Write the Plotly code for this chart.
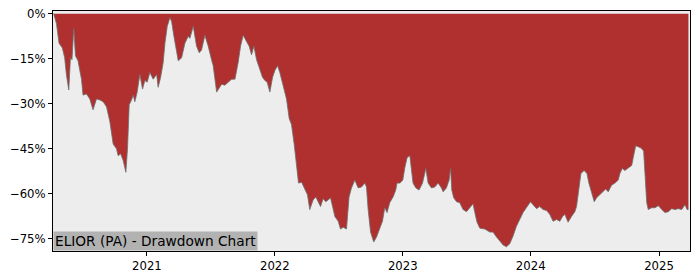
import pandas as pd
import plotly.graph_objects as go

# Decimal-year dates and drawdown values (%)
dec_years = [
    2020.273, 2020.295, 2020.315, 2020.341, 2020.359, 2020.373, 2020.391, 2020.404, 2020.416, 2020.430,
    2020.443, 2020.463, 2020.490, 2020.502, 2020.529, 2020.555, 2020.580, 2020.607, 2020.633, 2020.659,
    2020.685, 2020.711, 2020.737, 2020.763, 2020.776, 2020.795, 2020.815, 2020.836, 2020.849, 2020.862,
    2020.880, 2020.893, 2020.906, 2020.924, 2020.945, 2020.966, 2020.984, 2021.002, 2021.023, 2021.049,
    2021.076, 2021.088, 2021.107, 2021.127, 2021.141, 2021.159, 2021.180, 2021.193, 2021.211, 2021.232,
    2021.245, 2021.271, 2021.297, 2021.323, 2021.336, 2021.362, 2021.375, 2021.388, 2021.409, 2021.427,
    2021.453, 2021.479, 2021.505, 2021.518, 2021.545, 2021.565, 2021.584, 2021.609, 2021.635, 2021.662,
    2021.688, 2021.713, 2021.732, 2021.752, 2021.773, 2021.799, 2021.818, 2021.836, 2021.857, 2021.883,
    2021.904, 2021.922, 2021.940, 2021.961, 2021.982, 2022.000, 2022.021, 2022.039, 2022.065, 2022.091,
    2022.112, 2022.130, 2022.151, 2022.170, 2022.185, 2022.209, 2022.234, 2022.255, 2022.273, 2022.299,
    2022.320, 2022.338, 2022.357, 2022.377, 2022.398, 2022.416, 2022.435, 2022.451, 2022.469, 2022.495,
    2022.513, 2022.534, 2022.560, 2022.580, 2022.599, 2022.625, 2022.651, 2022.677, 2022.703, 2022.716,
    2022.729, 2022.748, 2022.773, 2022.795, 2022.820, 2022.841, 2022.859, 2022.877, 2022.898, 2022.924,
    2022.945, 2022.955, 2022.977, 2023.000, 2023.016, 2023.034, 2023.055, 2023.068, 2023.080, 2023.102,
    2023.127, 2023.154, 2023.180, 2023.198, 2023.224, 2023.250, 2023.276, 2023.302, 2023.315, 2023.341,
    2023.362, 2023.373, 2023.383, 2023.398, 2023.420, 2023.445, 2023.471, 2023.498, 2023.523, 2023.549,
    2023.563, 2023.580, 2023.602, 2023.641, 2023.680, 2023.705, 2023.732, 2023.758, 2023.784, 2023.810,
    2023.836, 2023.862, 2023.888, 2023.914, 2023.940, 2023.966, 2023.998, 2024.018, 2024.045, 2024.070,
    2024.096, 2024.123, 2024.148, 2024.174, 2024.201, 2024.227, 2024.248, 2024.266, 2024.291, 2024.318,
    2024.344, 2024.357, 2024.375, 2024.391, 2024.416, 2024.438, 2024.453, 2024.474, 2024.495, 2024.513,
    2024.539, 2024.565, 2024.584, 2024.604, 2024.630, 2024.656, 2024.682, 2024.695, 2024.713, 2024.734,
    2024.760, 2024.787, 2024.799, 2024.818, 2024.838, 2024.859, 2024.880, 2024.891, 2024.904, 2024.916,
    2024.943, 2024.969, 2024.995, 2025.021, 2025.047, 2025.073, 2025.099, 2025.125, 2025.151, 2025.177,
    2025.203, 2025.219, 2025.230,
]
drawdown_pct = [
    0.0, -3.3, -9.8, -11.4, -14.7, -20.5, -25.4, -14.7, -15.3, -4.9,
    -14.0, -15.7, -21.8, -27.1, -26.7, -28.4, -32.0, -28.4, -28.7, -29.3,
    -31.0, -35.9, -43.4, -45.0, -47.3, -46.6, -48.9, -52.8, -44.7, -30.3,
    -28.7, -27.1, -29.3, -26.1, -20.2, -25.1, -22.2, -22.8, -19.6, -21.8,
    -20.2, -24.5, -21.2, -16.3, -9.8, -4.2, -1.3, -2.6, -7.5, -13.0,
    -15.7, -14.7, -9.8, -7.5, -8.2, -4.2, -7.5, -10.8, -13.0, -12.1,
    -7.2, -10.8, -15.3, -17.3, -26.1, -24.5, -23.5, -23.8, -22.8, -21.8,
    -21.8, -16.3, -10.8, -7.2, -8.8, -10.8, -13.7, -10.8, -15.3, -18.6,
    -21.2, -22.2, -22.8, -26.1, -21.2, -18.9, -17.3, -19.6, -23.8, -28.4,
    -34.9, -36.9, -43.4, -51.2, -56.4, -56.1, -58.7, -60.3, -65.2, -62.0,
    -61.0, -62.6, -64.2, -61.6, -62.6, -62.0, -61.3, -64.2, -67.5, -69.1,
    -71.7, -71.1, -71.7, -61.0, -58.0, -55.4, -58.0, -57.7, -56.4, -57.7,
    -65.2, -72.7, -76.0, -74.3, -71.7, -69.1, -64.6, -66.2, -62.9, -61.0,
    -58.7, -56.4, -56.4, -55.4, -51.2, -47.9, -47.3, -52.2, -56.4, -58.0,
    -58.7, -56.4, -51.5, -56.4, -58.0, -57.7, -56.4, -58.0, -59.3, -58.0,
    -55.4, -51.5, -58.7, -61.3, -62.6, -62.9, -65.2, -65.9, -64.6, -63.3,
    -66.2, -69.4, -71.4, -71.7, -72.7, -72.7, -74.3, -75.7, -77.0, -77.6,
    -76.6, -74.0, -70.8, -68.5, -66.2, -64.6, -62.6, -63.6, -64.9, -64.2,
    -65.2, -65.5, -66.8, -69.1, -68.5, -69.1, -67.5, -66.8, -69.4, -67.5,
    -65.9, -64.2, -57.7, -53.2, -52.2, -53.2, -56.4, -59.3, -62.6, -61.3,
    -60.3, -59.3, -58.4, -59.3, -57.1, -56.4, -55.4, -53.2, -51.5, -52.2,
    -51.5, -50.5, -47.9, -44.0, -44.3, -44.7, -45.7, -54.5, -62.9, -65.2,
    -64.6, -64.6, -63.9, -65.2, -66.2, -65.9, -64.9, -65.2, -64.9, -65.2,
    -63.6, -65.2, -65.2,
]
ytick_vals = [0, -15, -30, -45, -60, -75]
ytick_text = ["0%", "\u221215%", "\u221230%", "\u221245%", "\u221260%", "\u221275%"]
xtick_years = [2021, 2022, 2023, 2024, 2025]
x_range_years = [2020.268, 2025.242]
y_range = [-79.0, 0.9]
title_text = "ELIOR (PA) - Drawdown Chart"


def to_date(y):
    year = int(y)
    frac = y - year
    start = pd.Timestamp(year=year, month=1, day=1)
    end = pd.Timestamp(year=year + 1, month=1, day=1)
    return start + (end - start) * frac


dates = [to_date(v) for v in dec_years]
xtick_dates = [pd.Timestamp(year=y, month=1, day=1) for y in xtick_years]

fig = go.Figure()
fig.add_trace(go.Scatter(
    x=dates, y=drawdown_pct, mode="lines", fill="tozeroy",
    fillcolor="rgb(176,48,48)",
    line=dict(color="rgba(110,110,110,0.8)", width=1),
    hoverinfo="skip", showlegend=False,
))

font = dict(family="DejaVu Sans", size=11.7, color="black")
fig.update_layout(
    width=700, height=280,
    margin=dict(l=53, r=10, t=7, b=28),
    paper_bgcolor="white", plot_bgcolor="rgb(237,237,237)",
    font=font,
    xaxis=dict(
        range=[to_date(x_range_years[0]), to_date(x_range_years[1])],
        tickvals=xtick_dates, ticktext=[str(y) for y in xtick_years],
        showgrid=False, zeroline=False,
        showline=True, linecolor="black", linewidth=1, mirror=True,
        ticks="outside", ticklen=4, tickcolor="black",
    ),
    yaxis=dict(
        range=y_range, tickvals=ytick_vals, ticktext=ytick_text,
        showgrid=False, zeroline=False,
        showline=True, linecolor="black", linewidth=1, mirror=True,
        ticks="outside", ticklen=4, tickcolor="black",
    ),
    annotations=[dict(
        text=title_text, xref="paper", yref="paper", x=0.0, y=0.0,
        xanchor="left", yanchor="bottom", showarrow=False,
        bgcolor="rgb(178,178,178)", borderpad=1,
        font=dict(family="DejaVu Sans", size=13.7, color="black"),
    )],
)

fig.write_html("out.html")
